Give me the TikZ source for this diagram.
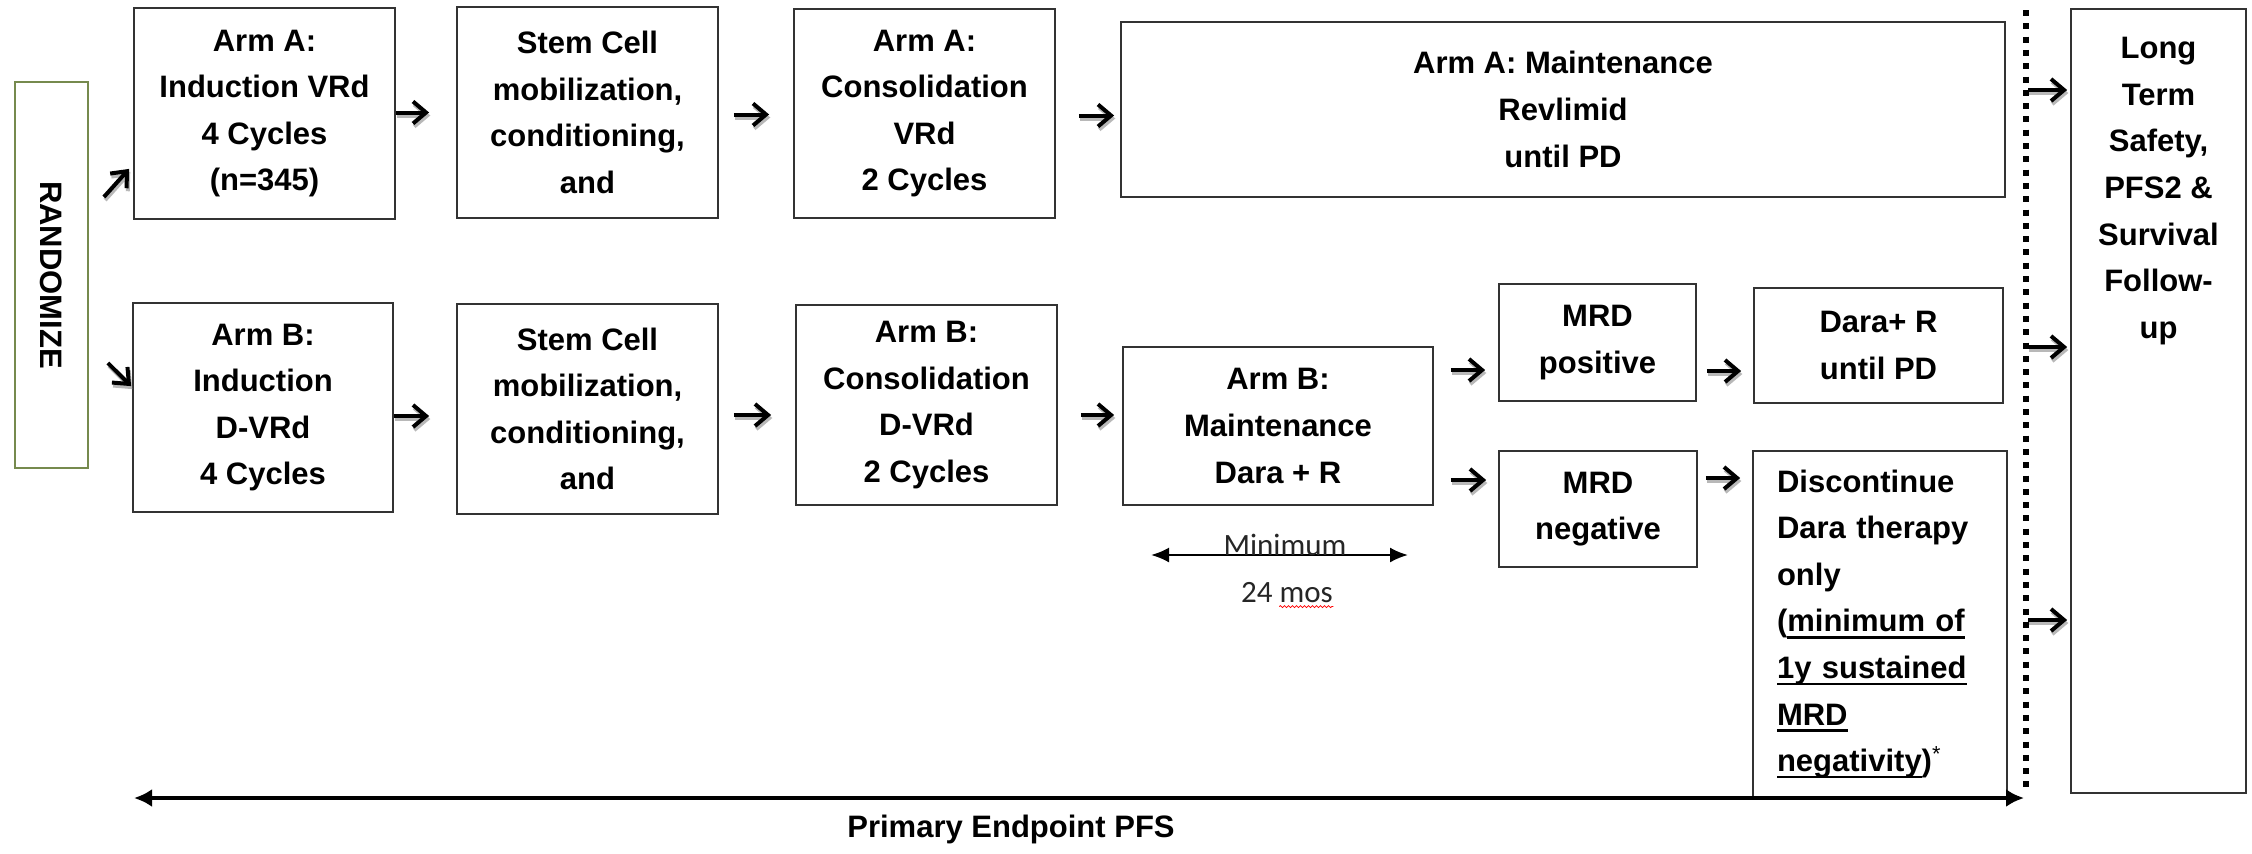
\documentclass[tikz,border=0pt]{standalone}
\usepackage{fontspec}
\setmainfont{Liberation Sans}
\newfontfamily\calfont{Carlito}
\usetikzlibrary{arrows.meta,decorations.pathmorphing}

\newcommand{\ulthick}[1]{\leavevmode\setbox0\hbox{#1}\rlap{\rule[-3.4pt]{\wd0}{1.3pt}}\box0}
\newcommand{\flowar}[2]{%
  \draw[flowshadow,#1,transform canvas={shift={(0.6pt,-1.5pt)}}] #2;
  \draw[flow,#1] #2;}

\tikzset{
  box/.style={draw=black!80, line width=0.9pt, fill=white, align=center, inner sep=0pt,
    font=\bfseries\fontsize{15.5}{23.3}\selectfont},
  txt/.style={align=center, inner sep=0pt, font=\bfseries\fontsize{15.5}{23.3}\selectfont},
  flow/.style={line width=2pt, draw=black, -{Straight Barb[length=6.5pt,width=11pt]}},
  flowshadow/.style={flow, draw=black!28},
  dimarrow/.style={line width=1.1pt, {Latex[length=9pt,width=7.5pt]}-{Latex[length=9pt,width=7.5pt]}},
  pfsarrow/.style={line width=2.2pt, {Latex[length=9pt,width=9pt]}-{Latex[length=9pt,width=9pt]}},
  dotline/.style={line width=3.4pt, dash pattern=on 3pt off 3.65pt},
  minfont/.style={inner sep=0pt, text=black!85, font=\calfont\fontsize{15.5}{18}\selectfont},
}

\begin{document}
\begin{tikzpicture}[x=0.5pt,y=-0.5pt]
\useasboundingbox (0,0) rectangle (2252,853);
\fill[white] (0,0) rectangle (2252,853);

% Randomize
\node[box, draw={rgb,255:red,118;green,138;blue,78}, rotate=-90,
      minimum width=193pt, minimum height=36.5pt] (rand) at (51.5,275) {RANDOMIZE};

% Row A
\node[box, minimum width=130.5pt, minimum height=105.5pt] (indA) at (264.5,113.5)
  {Arm A:\\Induction VRd\\4 Cycles\\(n=345)};
\node[box, minimum width=130.5pt, minimum height=105.5pt] (stemA) at (587.5,112.5)
  {Stem Cell\\mobilization,\\conditioning,\\and};
\node[box, minimum width=130.5pt, minimum height=104.5pt] (consA) at (924.5,113.5)
  {Arm A:\\Consolidation\\VRd\\2 Cycles};
\node[box, minimum width=442pt, minimum height=87.5pt] (mainA) at (1563,109.5)
  {Arm A: Maintenance\\Revlimid\\until PD};

% Row B
\node[box, minimum width=130pt, minimum height=104.5pt] (indB) at (263,407.5)
  {Arm B:\\Induction\\D-VRd\\4 Cycles};
\node[box, minimum width=130.5pt, minimum height=105pt] (stemB) at (587.5,409)
  {Stem Cell\\mobilization,\\conditioning,\\and};
\node[box, minimum width=130.5pt, minimum height=100pt] (consB) at (926.5,405)
  {Arm B:\\Consolidation\\D-VRd\\2 Cycles};
\node[box, minimum width=155pt, minimum height=79pt] (mainB) at (1278,426)
  {Arm B:\\Maintenance\\Dara + R};
\node[box, minimum width=98.5pt, minimum height=58.5pt] (mrdP) at (1597.5,342.5)
  {MRD\\positive};
\node[box, minimum width=99pt, minimum height=58pt] (mrdN) at (1598,509)
  {MRD\\negative};
\node[box, minimum width=124.5pt, minimum height=57.5pt] (dara) at (1878.5,345.5)
  {Dara+ R\\until PD};
\node[box, minimum width=127pt, minimum height=173pt, text width=103pt, inner xsep=12pt, align=left] (disc) at (1880,624)
  {Discontinue\\Dara therapy\\only\\(\ulthick{minimum of}\\\ulthick{1y sustained}\\\ulthick{MRD}\\\ulthick{negativity})\textsuperscript{\mdseries *}};

% Long term
\node[box, minimum width=87.5pt, minimum height=392pt] (lt) at (2158.5,401) {};
\node[txt, anchor=north] (ltText) at (2158.5,37)
  {Long\\Term\\Safety,\\PFS2 \&\\Survival\\Follow-\\up};

% dotted separator
\coordinate (dotT) at (2026,10);
\coordinate (dotB) at (2026,790);
\draw[dotline] (dotT) -- (dotB);

% randomize arrows
\coordinate (rA0) at ([xshift=7.5pt,yshift=39pt]rand.north);
\coordinate (rA1) at ([xshift=-2pt,yshift=25.5pt]indA.south west);
\coordinate (rB0) at ([xshift=9.5pt,yshift=-44pt]rand.north);
\coordinate (rB1) at ([xshift=-0.5pt,yshift=-42pt]indB.north west);
\flowar{}{(rA0) -- (rA1)}
\flowar{}{(rB0) -- (rB1)}

% row A arrows
\coordinate (a1) at ([yshift=0.5pt]indA.east);
\coordinate (a2) at ([yshift=-1pt]stemA.east);
\coordinate (a3) at ([yshift=-1pt]consA.east);
\flowar{shorten >=13.5pt}{(a1) -- (a1 -| stemA.west)}
\flowar{shorten <=7.5pt, shorten >=12pt}{(a2) -- (a2 -| consA.west)}
\flowar{shorten <=11.5pt, shorten >=3pt}{(a3) -- (a3 -| mainA.west)}

% row B arrows
\coordinate (b1) at ([yshift=-4.25pt]indB.east);
\coordinate (b2) at ([yshift=-3pt]stemB.east);
\coordinate (b3) at ([yshift=-5pt]consB.east);
\flowar{shorten >=13.5pt}{(b1) -- (b1 -| stemB.west)}
\flowar{shorten <=7.5pt, shorten >=12pt}{(b2) -- (b2 -| consB.west)}
\flowar{shorten <=11.5pt, shorten >=4pt}{(b3) -- (b3 -| mainB.west)}

% maintenance B to MRD
\coordinate (m1) at ([yshift=28pt]mainB.east);
\coordinate (m2) at ([yshift=-27pt]mainB.east);
\flowar{shorten <=8.5pt, shorten >=6.5pt}{(m1) -- (m1 -| mrdP.west)}
\flowar{shorten <=8.5pt, shorten >=6pt}{(m2) -- (m2 -| mrdN.west)}

% MRD to outcomes
\coordinate (p1) at ([yshift=-14.25pt]mrdP.east);
\coordinate (n1) at ([yshift=15.5pt]mrdN.east);
\flowar{shorten <=5pt, shorten >=6pt}{(p1) -- (p1 -| dara.west)}
\flowar{shorten <=4pt, shorten >=6pt}{(n1) -- (n1 -| disc.west)}

% into long-term follow-up
\coordinate (d1) at (2028,90);
\coordinate (d2) at (2028,347);
\coordinate (d3) at (2028,620);
\flowar{shorten >=1.5pt}{(d1) -- (d1 -| lt.west)}
\flowar{shorten >=1.5pt}{(d2) -- (d2 -| lt.west)}
\flowar{shorten >=1.5pt}{(d3) -- (d3 -| lt.west)}

% minimum 24 mos
\coordinate (minL) at (1151,555);
\coordinate (minR) at (1408,555);
\draw[dimarrow] (minL) -- (minR);
\node[minfont] (minT) at (1285,545) {Minimum};
\node[minfont] (m24) at (1287,593) {24 mos};
\draw[red, line width=0.4pt, decorate, decoration={snake, amplitude=0.5pt, segment length=2pt}]
  ([xshift=-27pt,yshift=-1.5pt]m24.south east) -- ([yshift=-1.5pt]m24.south east);

% primary endpoint
\coordinate (pL) at (134,798);
\coordinate (pR) at (2024,798);
\draw[pfsarrow] (pL) -- (pR);
\node[txt, font=\bfseries\fontsize{15.5}{18}\selectfont] (pep) at (1011,829) {Primary Endpoint PFS};
\end{tikzpicture}
\end{document}
